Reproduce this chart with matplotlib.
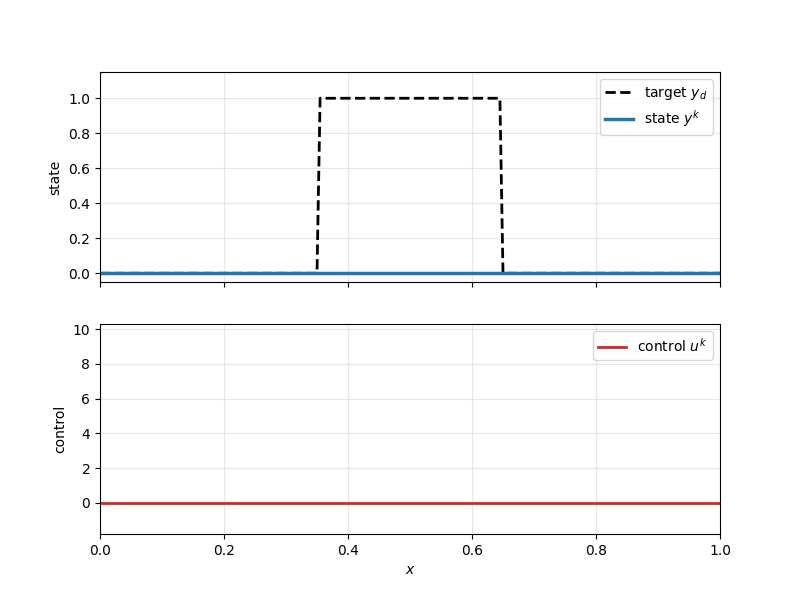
import matplotlib
matplotlib.use("Agg")
import matplotlib.pyplot as plt

# target profile (step)
x_target = [0.0, 0.35, 0.355, 0.645, 0.65, 1.0]
y_target = [0.0, 0.0, 1.0, 1.0, 0.0, 0.0]

# state and control are flat at zero
x_state = [0.0, 1.0]
y_state = [0.0, 0.0]
x_control = [0.0, 1.0]
u_control = [0.0, 0.0]

fig, (ax1, ax2) = plt.subplots(2, 1, sharex=True, figsize=(8, 6), dpi=100)

ax1.plot(x_target, y_target, "k--", lw=2, label="target $y_d$")
ax1.plot(x_state, y_state, color="#1f77b4", lw=2.5, label="state $y^k$")
ax1.set_ylabel("state")
ax1.set_ylim(-0.05, 1.15)
ax1.grid(True, alpha=0.3)
ax1.legend(loc="upper right")

ax2.plot(x_control, u_control, color="#d62728", lw=2, label="control $u^k$")
ax2.set_ylabel("control")
ax2.set_xlabel("$x$")
ax2.set_ylim(-1.8, 10.3)
ax2.set_xlim(0, 1)
ax2.grid(True, alpha=0.3)
ax2.legend(loc="upper right")

fig.savefig("out.png")
